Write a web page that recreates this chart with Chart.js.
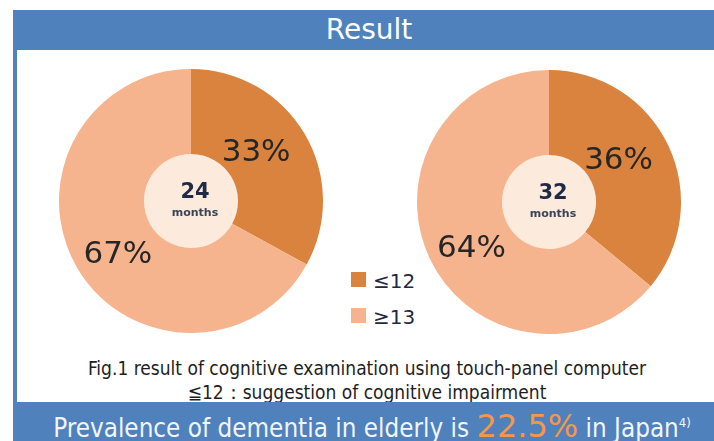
<!DOCTYPE html>
<html>
<head>
<meta charset="utf-8">
<script src="https://cdn.jsdelivr.net/npm/chart.js@4.4.1/dist/chart.umd.min.js"></script>
<style>
   body { margin: 0; width: 714px; height: 441px; overflow: hidden; background: #fff; position: relative; font-family: "DejaVu Sans", sans-serif; }
   .frame { position: absolute; left: 13px; top: 10px; width: 740px; height: 440px; border-left: 4px solid #4F81BD; }
   .header { position: absolute; left: 13px; top: 10px; width: 720px; height: 40px; background: #4F81BD; color: #fff; font-size: 28px; line-height: 40px; text-align: center; padding-left: 0; }
   .header span { position: absolute; left: 356px; transform: translateX(-50%); }
   canvas { position: absolute; }
   #pie24 { left: 59px; top: 69px; }
   #pie32 { left: 417px; top: 70px; }
   .legend { position: absolute; left: 351px; top: 269px; color: #1F2A44; font-size: 20px; }
   .legend-item { height: 36px; display: flex; align-items: flex-start; }
   .legend-box { width: 15px; height: 15px; margin-top: 3px; margin-right: 7px; }
   .caption { position: absolute; left: 0; width: 734px; top: 356px; text-align: center; font-family: "DejaVu Sans Condensed", sans-serif; font-size: 19px; line-height: 24px; color: #1e1e1e; }
   .footer { position: absolute; left: 13px; top: 402px; width: 720px; height: 39px; background: #4F81BD; }
   .footer-text { position: absolute; left: 0; width: 744px; top: 408px; text-align: center; white-space: nowrap; color: #F2F5FA; font-family: "DejaVu Sans Condensed", sans-serif; font-size: 25.8px; line-height: 30px; }
   .footer-text .big { color: #F79646; font-family: "DejaVu Sans", sans-serif; font-size: 32px; }
   .footer-text sup { font-size: 13px; }
</style>
</head>
<body>
<div class="frame"></div>
<div class="header"><span>Result</span></div>
<canvas id="pie24" width="264" height="264"></canvas>
<canvas id="pie32" width="264" height="264"></canvas>
<div class="legend" id="legend"></div>
<div class="caption">Fig.1 result of cognitive examination using touch-panel computer<br>≦12：suggestion of cognitive impairment</div>
<div class="footer"></div>
<div class="footer-text">Prevalence of dementia in elderly is <span class="big">22.5%</span> in Japan<sup>4)</sup></div>
<script>
// score groups
const categories = ['≤12', '≥13'];
// follow-up periods (months)
const periods = ['24', '32'];
// share of each score group, percent
const shares24 = [33, 67];
const shares32 = [36, 64];

const sliceColors = ['#D9833E', '#F6B48E'];
const centerColor = '#FCEADC';

// percent labels on the outer slices + the months text in the middle
const pieLabels = {
   id: 'pieLabels',
   afterDatasetsDraw(chart, args, opts) {
      const ctx = chart.ctx;
      const meta = chart.getDatasetMeta(0);
      const values = chart.data.datasets[0].data;
      ctx.save();
      ctx.textAlign = 'center';
      ctx.textBaseline = 'middle';
      ctx.fillStyle = '#262626';
      ctx.font = '31px "DejaVu Sans"';
      meta.data.forEach((arc, i) => {
         const p = arc.getProps(['x', 'y', 'startAngle', 'endAngle', 'outerRadius']);
         // labels sit a little before the middle of the slice
         const angle = (p.startAngle + p.endAngle) / 2 - 0.1;
         const r = p.outerRadius * 0.65;
         ctx.fillText(values[i] + '%', p.x + Math.cos(angle) * r - 4, p.y + Math.sin(angle) * r + 3);
      });
      const cx = (chart.chartArea.left + chart.chartArea.right) / 2;
      const cy = (chart.chartArea.top + chart.chartArea.bottom) / 2;
      ctx.fillStyle = '#1F2A44';
      ctx.font = 'bold 21px "DejaVu Sans"';
      ctx.fillText(opts.period, cx + 4, cy - 8);
      ctx.fillStyle = '#3A4358';
      ctx.font = 'bold 11px "DejaVu Sans"';
      ctx.fillText('months', cx + 4, cy + 12);
      ctx.restore();
   }
};

function renderPie(id, shares, period) {
   const ctx = document.getElementById(id).getContext('2d');
   new Chart(ctx, {
      type: 'pie',
      data: {
         labels: categories,
         datasets: [{
            data: shares,
            backgroundColor: sliceColors,
            borderWidth: 0,
            weight: 85
         }, {
            data: [1],
            backgroundColor: [centerColor],
            borderWidth: 0,
            weight: 47
         }]
      },
      options: {
         responsive: false,
         devicePixelRatio: 1,
         animation: false,
         layout: { padding: 0 },
         plugins: {
            legend: { display: false },
            tooltip: { enabled: false },
            pieLabels: { period: period }
         }
      },
      plugins: [pieLabels]
   });
}

function buildLegend() {
   const legend = document.getElementById('legend');
   categories.forEach((label, i) => {
      const item = document.createElement('div');
      item.className = 'legend-item';
      const box = document.createElement('div');
      box.className = 'legend-box';
      box.style.background = sliceColors[i];
      const text = document.createElement('span');
      text.textContent = label;
      item.appendChild(box);
      item.appendChild(text);
      legend.appendChild(item);
   });
}

renderPie('pie24', shares24, periods[0]);
renderPie('pie32', shares32, periods[1]);
buildLegend();
</script>
</body>
</html>
